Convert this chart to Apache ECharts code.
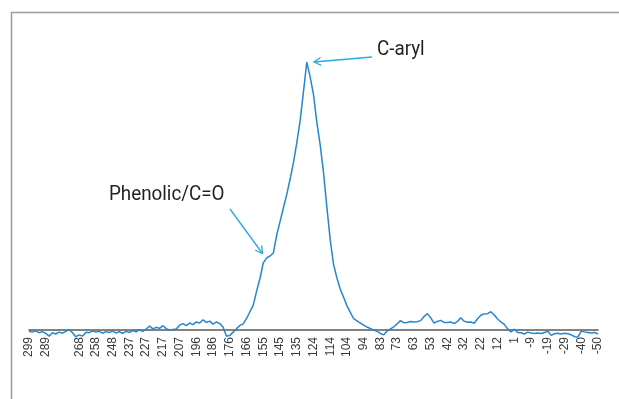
<!DOCTYPE html>
<html>
<head>
<meta charset="utf-8">
<script src="https://cdn.jsdelivr.net/npm/echarts@6/dist/echarts.min.js"></script>
<style>
html,body{margin:0;padding:0;background:#fff;}
#chart{width:619px;height:399px;}
</style>
</head>
<body>
<div id="chart"></div>
<script>
// Tick labels (ppm) shown every 5th point; one label is not shown in the original
const tickLabels = ['299','289','','268','258','248','237','227','217','207','196','186','176','166','155','145','135','124','114','104','94','83','73','63','53','42','32','22','12','1','-9','-19','-29','-40','-50'];
const pointsPerTick = 5;

// 13C NMR intensity (relative), from 299 ppm down to -50 ppm
const intensity = [
  -0.5, -0.8, -0.3, -1.0, -0.6, -1.2, -2.3, -1.0, -1.5, -0.8,
  -1.2, -0.5, 0.2, -1.0, -2.5, -1.8, -2.3, -0.8, -1.0, -0.4,
  -0.8, -0.5, -1.2, -0.6, -0.9, -0.4, -1.1, -0.6, -1.3, -0.5,
  -0.9, -0.2, -0.7, 0.1, -0.5, 0.3, 1.5, 0.4, 1.0, 0.6,
  1.6, 0.5, 0.0, 0.2, 0.4, 1.8, 2.4, 1.6, 2.6, 2.0,
  3.0, 2.6, 3.8, 2.8, 3.3, 2.2, 3.0, 2.4, 1.0, -2.3,
  -2.0, -0.8, 0.5, 1.7, 2.3, 4.3, 6.8, 9.3, 14.5, 19.2,
  25.0, 26.9, 27.6, 28.7, 35.4, 40.4, 45.5, 50.5, 56.2, 62.3,
  69.8, 78.0, 88.8, 99.9, 94.4, 87.8, 77.4, 69.0, 58.6, 45.7,
  33.5, 24.4, 19.4, 15.2, 12.2, 9.0, 6.6, 4.2, 3.4, 2.6,
  1.8, 1.1, 0.5, 0.0, -0.5, -1.3, -1.8, -0.4, 0.4, 1.2,
  2.3, 3.5, 2.7, 2.8, 3.2, 3.0, 3.1, 3.5, 5.0, 6.1,
  4.6, 2.6, 3.2, 3.6, 2.8, 2.8, 3.0, 2.4, 3.2, 4.6,
  3.3, 2.9, 3.0, 2.5, 4.2, 5.5, 6.0, 6.1, 6.8, 5.6,
  4.1, 3.0, 2.1, 0.4, -0.7, 0.3, -0.9, -1.0, -1.5, -0.8,
  -1.1, -1.3, -1.1, -1.3, -0.9, -0.5, -2.0, -1.4, -1.2, -1.5,
  -1.2, -1.4, -1.8, -2.5, -2.6, -0.4, -0.7, -0.9, -1.1, -0.9,
  -1.5
];

const annotations = [
  { text: 'C-aryl', tx: 377, ty: 49.5, from: [372, 57], to: [314, 62] },
  { text: 'Phenolic/C=O', tx: 109, ty: 194.5, from: [230, 209], to: [262.5, 253.5] }
];

const categories = intensity.map((_, i) => String(i));

function arrowGraphics(a) {
  const dx = a.from[0] - a.to[0], dy = a.from[1] - a.to[1];
  const len = Math.sqrt(dx * dx + dy * dy);
  const ux = dx / len, uy = dy / len;
  const L = 8, ang = Math.PI / 6;
  const c = Math.cos(ang), s = Math.sin(ang);
  const p1 = [a.to[0] + L * (c * ux - s * uy), a.to[1] + L * (s * ux + c * uy)];
  const p2 = [a.to[0] + L * (c * ux + s * uy), a.to[1] + L * (-s * ux + c * uy)];
  const col = '#29a9e1';
  return [
    { type: 'line', shape: { x1: a.from[0], y1: a.from[1], x2: a.to[0], y2: a.to[1] }, style: { stroke: col, lineWidth: 1.3 }, z: 10 },
    { type: 'polyline', shape: { points: [p1, a.to, p2] }, style: { stroke: col, lineWidth: 1.3, fill: null }, z: 10 },
    { type: 'text', x: a.tx, y: a.ty, scaleX: 0.94, style: { text: a.text, fill: '#231f20', font: '20px Roboto', verticalAlign: 'middle', align: 'left' }, z: 10 }
  ];
}

const graphics = [
  { type: 'rect', shape: { x: 11.5, y: 12.5, width: 800, height: 600 }, style: { stroke: '#9c9c9c', lineWidth: 1.5, fill: null }, z: 0 }
];
annotations.forEach(a => graphics.push(...arrowGraphics(a)));

const chart = echarts.init(document.getElementById('chart'), null, { renderer: 'canvas' });
chart.setOption({
  animation: false,
  backgroundColor: '#fff',
  grid: { left: 29, right: 21, top: 35, bottom: 69, containLabel: false },
  xAxis: {
    type: 'category',
    data: categories,
    boundaryGap: false,
    axisLine: { onZero: false, lineStyle: { color: '#5a5a5a', width: 1.6 } },
    axisTick: { show: false },
    axisLabel: {
      interval: pointsPerTick - 1,
      rotate: 90,
      margin: 7,
      fontFamily: 'Liberation Sans',
      fontSize: 12,
      color: '#3a3a3a',
      formatter: (v, idx) => tickLabels[Math.round(idx / pointsPerTick)] || ''
    },
    splitLine: { show: false }
  },
  yAxis: {
    type: 'value',
    min: 0,
    max: 110,
    show: false,
    splitLine: { show: false }
  },
  series: [{
    type: 'line',
    data: intensity,
    symbol: 'none',
    smooth: false,
    clip: false,
    lineStyle: { color: '#2586cf', width: 1.5 },
    z: 2
  }],
  graphic: graphics
});
</script>
</body>
</html>
